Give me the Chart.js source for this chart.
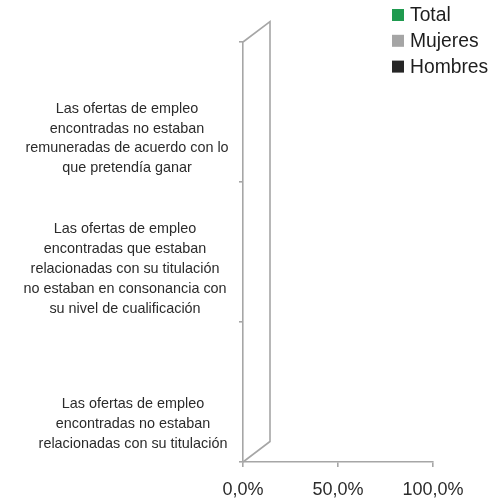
<!DOCTYPE html>
<html>
<head>
<meta charset="utf-8">
<script src="https://cdn.jsdelivr.net/npm/chart.js@4.4.1/dist/chart.umd.min.js"></script>
<style>
    html, body { margin: 0; padding: 0; background: #ffffff; }
    #wrap { width: 503px; height: 501px; position: relative; }
</style>
</head>
<body>
<div id="wrap"><canvas id="chart"></canvas></div>
<script>
// Categories (top to bottom), each split into its display lines
const categories = [
    ['Las ofertas de empleo', 'encontradas no estaban', 'remuneradas de acuerdo con lo', 'que pretendía ganar'],
    ['Las ofertas de empleo', 'encontradas que estaban', 'relacionadas con su titulación', 'no estaban en consonancia con', 'su nivel de cualificación'],
    ['Las ofertas de empleo', 'encontradas no estaban', 'relacionadas con su titulación']
];

// Series values (share, 0..1) - no bars are visible in the picture
const seriesNames = ['Total', 'Mujeres', 'Hombres'];
const totalValues = [0, 0, 0];
const mujeresValues = [0, 0, 0];
const hombresValues = [0, 0, 0];

// Axis ticks
const xTicks = [0, 0.5, 1];

const colors = ['#1f9a4f', '#a5a5a5', '#262626'];
const axisColor = '#a6a6a6';
const textColor = '#2b2b2b';

function formatPercent(v) {
    return (v * 100).toFixed(1).replace('.', ',') + '%';
}

// Draws the 3D back wall, the category labels and the legend
const excelLook = {
    id: 'excelLook',
    beforeDatasetsDraw(chart) {
        const { ctx, chartArea } = chart;
        const dx = 27, dy = -20.5;
        ctx.save();
        ctx.strokeStyle = axisColor;
        ctx.lineWidth = 1.6;
        ctx.beginPath();
        ctx.moveTo(chartArea.left, chartArea.top);
        ctx.lineTo(chartArea.left + dx, chartArea.top + dy);
        ctx.lineTo(chartArea.left + dx, chartArea.bottom + dy);
        ctx.lineTo(chartArea.left, chartArea.bottom);
        ctx.stroke();
        ctx.restore();
    },
    afterDraw(chart, args, opts) {
        const { ctx } = chart;
        const yScale = chart.scales.y;
        ctx.save();
        ctx.fillStyle = textColor;
        ctx.font = '14.4px "Liberation Sans", Arial, sans-serif';
        ctx.textAlign = 'center';
        ctx.textBaseline = 'middle';
        categories.forEach((lines, i) => {
            const cy = yScale.getPixelForValue(i) + opts.labelShift[i];
            const cx = opts.labelCenter[i];
            const lh = 19.8;
            lines.forEach((line, j) => {
                ctx.fillText(line, cx, cy + (j - (lines.length - 1) / 2) * lh);
            });
        });

        // legend
        ctx.font = '19.3px "Liberation Sans", Arial, sans-serif';
        ctx.textAlign = 'left';
        chart.data.datasets.forEach((ds, i) => {
            const y = 15 + i * 25.8;
            ctx.fillStyle = ds.backgroundColor;
            ctx.fillRect(392, y - 6, 12, 12);
            ctx.fillStyle = '#1e1e1e';
            ctx.fillText(ds.label, 410, y + 1);
        });
        ctx.restore();
    }
};

new Chart(document.getElementById('chart'), {
    type: 'bar',
    data: {
        labels: categories,
        datasets: [
            { label: seriesNames[0], data: totalValues, backgroundColor: colors[0] },
            { label: seriesNames[1], data: mujeresValues, backgroundColor: colors[1] },
            { label: seriesNames[2], data: hombresValues, backgroundColor: colors[2] }
        ]
    },
    options: {
        indexAxis: 'y',
        responsive: true,
        maintainAspectRatio: false,
        animation: false,
        layout: { padding: { top: 42, right: 70, left: 0, bottom: 0 } },
        plugins: {
            legend: { display: false },
            tooltip: { enabled: false },
            excelLook: {
                labelShift: [26.5, 17, 32],
                labelCenter: [127, 125, 133]
            }
        },
        scales: {
            x: {
                min: 0,
                max: 1,
                afterBuildTicks: s => { s.ticks = xTicks.map(v => ({ value: v })); },
                afterFit: s => { s.height = 39; },
                grid: {
                    drawOnChartArea: false,
                    tickLength: 5,
                    color: axisColor,
                    lineWidth: 1.6
                },
                border: { color: axisColor, width: 1.6 },
                ticks: {
                    callback: v => formatPercent(v),
                    color: textColor,
                    padding: 12,
                    maxRotation: 0,
                    font: { family: '"Liberation Sans", Arial, sans-serif', size: 18 }
                }
            },
            y: {
                afterFit: s => { s.width = 243; },
                grid: {
                    drawOnChartArea: false,
                    offset: true,
                    tickLength: 4,
                    color: axisColor,
                    lineWidth: 1.6
                },
                border: { color: axisColor, width: 1.6 },
                ticks: { display: false }
            }
        }
    },
    plugins: [excelLook]
});
</script>
</body>
</html>
